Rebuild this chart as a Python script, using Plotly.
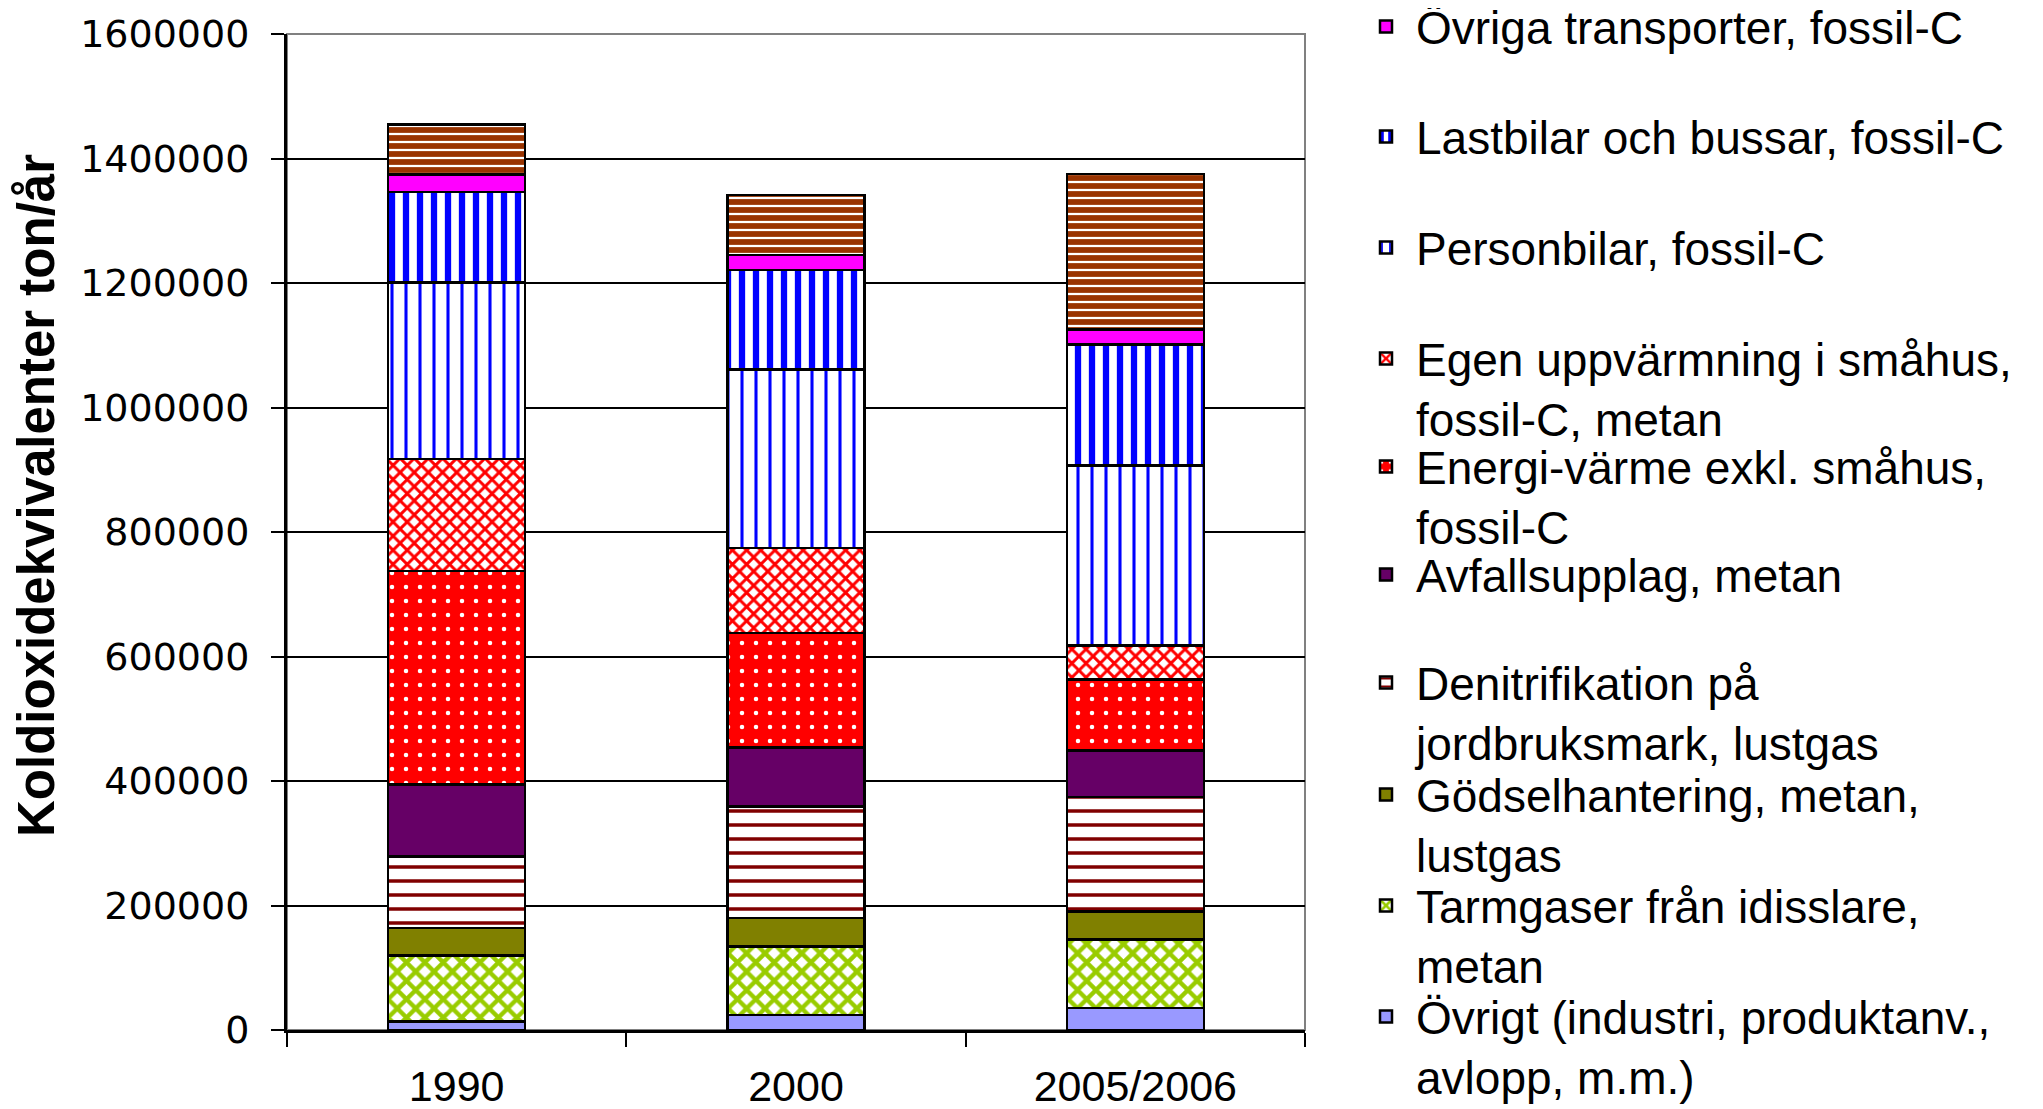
import plotly.graph_objects as go

# ---------------- data ----------------
categories = ["1990", "2000", "2005/2006"]

ovrigt        = [14000, 24000, 35000]      # Övrigt (industri, produktanv., avlopp, m.m.)
tarmgaser     = [106000, 110000, 110000]   # Tarmgaser från idisslare, metan
godsel        = [44000, 46000, 45000]      # Gödselhantering, metan, lustgas
denitrif      = [115000, 179000, 184000]   # Denitrifikation på jordbruksmark, lustgas
avfall        = [115000, 95000, 75000]     # Avfallsupplag, metan
energi        = [343000, 184000, 114000]   # Energi-värme exkl. småhus, fossil-C
egen          = [180000, 136000, 55000]    # Egen uppvärmning i småhus, fossil-C, metan
personbilar   = [284000, 287000, 289000]   # Personbilar, fossil-C
lastbilar     = [145000, 160000, 194000]   # Lastbilar och bussar, fossil-C
ovr_transport = [28000, 24000, 24000]      # Övriga transporter, fossil-C
ej_forklarad  = [81000, 96000, 250000]     # top segment without legend entry

y_ticks = [0, 200000, 400000, 600000, 800000, 1000000, 1200000, 1400000, 1600000]

# ---------------- styling ----------------
W, H = 2043, 1109
L, R, T, B = 279, 746, 26, 87
plot_h = H - T - B
plot_w = W - L - R

series = [
    (ovrigt, "Övrigt (industri, produktanv.,<br>avlopp, m.m.)", dict(shape=""), "#9999FF"),
    (tarmgaser, "Tarmgaser från idisslare,<br>metan",
     dict(shape="x", fgcolor="#99CC00", bgcolor="white", size=13, solidity=0.55, fillmode="replace"), "white"),
    (godsel, "Gödselhantering, metan,<br>lustgas", dict(shape=""), "#808000"),
    (denitrif, "Denitrifikation på<br>jordbruksmark, lustgas",
     dict(shape="-", fgcolor="#800000", bgcolor="white", size=14, solidity=0.25, fillmode="replace"), "white"),
    (avfall, "Avfallsupplag, metan", dict(shape=""), "#660066"),
    (energi, "Energi-värme exkl. småhus,<br>fossil-C",
     dict(shape=".", fgcolor="white", bgcolor="#FF0000", size=14, solidity=0.08, fillmode="replace"), "#FF0000"),
    (egen, "Egen uppvärmning i småhus,<br>fossil-C, metan",
     dict(shape="x", fgcolor="#FF0000", bgcolor="white", size=10, solidity=0.5, fillmode="replace"), "white"),
    (personbilar, "Personbilar, fossil-C",
     dict(shape="|", fgcolor="#0000FF", bgcolor="white", size=14, solidity=0.22, fillmode="replace"), "white"),
    (lastbilar, "Lastbilar och bussar, fossil-C",
     dict(shape="|", fgcolor="#0000FF", bgcolor="white", size=14, solidity=0.45, fillmode="replace"), "white"),
    (ovr_transport, "Övriga transporter, fossil-C", dict(shape=""), "#FF00FF"),
    (ej_forklarad, "(utan förklaring)",
     dict(shape="-", fgcolor="white", bgcolor="#993300", size=8, solidity=0.28, fillmode="replace"), "#993300"),
]

# legend rows (pixel centre of first text line, figure coords), top entry first
legend_rows_px = [21, 131, 242, 353, 461, 569, 677, 789, 900, 1011]
LEG_FONT = 46
legend_x_px = 1348

fig = go.Figure()
layout_legends = {}
for i, (vals, name, pat, col) in enumerate(series):
    show = i < 10
    leg_idx = 9 - i  # top-of-stack first in the legend
    leg_name = "legend" if leg_idx == 0 else f"legend{leg_idx + 1}"
    fig.add_trace(go.Bar(
        x=categories, y=vals, name=name,
        marker=dict(color=col, pattern=pat, line=dict(color="black", width=2.5)),
        showlegend=show, legend=leg_name if show else None,
        hoverinfo="skip",
    ))
    if show:
        top_px = legend_rows_px[leg_idx] - 0.65 * LEG_FONT - 9
        layout_legends[leg_name] = dict(
            x=(legend_x_px - L) / plot_w, xanchor="left",
            y=(H - B - top_px) / plot_h, yanchor="top",
            font=dict(family="Liberation Sans, Arial, sans-serif", size=LEG_FONT, color="black"),
            bgcolor="rgba(0,0,0,0)", borderwidth=0, valign="top", itemwidth=50,
            tracegroupgap=0,
        )

fig.update_layout(
    width=W, height=H,
    margin=dict(l=L, r=R, t=T, b=B, autoexpand=False),
    barmode="stack", bargap=0.596,
    plot_bgcolor="white", paper_bgcolor="white",
    showlegend=True,
    **layout_legends,
)

fig.update_yaxes(
    range=[0, 1600000], tickvals=y_ticks, ticktext=[str(v) for v in y_ticks],
    showgrid=True, gridcolor="black", gridwidth=2,
    showline=True, linecolor="black", linewidth=3,
    ticks="outside", ticklen=13, tickwidth=2, tickcolor="black",
    tickfont=dict(family="DejaVu Sans, sans-serif", size=38, color="black"),
    ticklabelstandoff=14,
    zeroline=False, automargin=False,
)
fig.update_xaxes(
    type="category", tickson="boundaries",
    showline=True, linecolor="black", linewidth=3,
    ticks="outside", ticklen=14, tickwidth=2, tickcolor="black",
    tickfont=dict(family="Liberation Sans, Arial, sans-serif", size=43, color="black"),
    ticklabelstandoff=16,
    showgrid=False, automargin=False,
)

# y-axis title (placed as in the reference, slightly above the plot centre)
title_cx, title_cy = 28, 488
fig.add_annotation(
    text="<b>Koldioxidekvivalenter ton/år</b>", textangle=-90,
    xref="paper", yref="paper",
    x=(title_cx - L) / plot_w, y=(H - B - title_cy) / plot_h,
    xanchor="center", yanchor="middle", showarrow=False,
    font=dict(family="Liberation Sans, Arial, sans-serif", size=51, color="black"),
)

# gray plot-area frame (top / right), like the Excel chart border
fig.add_shape(type="rect", xref="paper", yref="paper", x0=0, x1=1, y0=0, y1=1,
              line=dict(color="#808080", width=2), layer="below")

fig.write_html("out.html")
